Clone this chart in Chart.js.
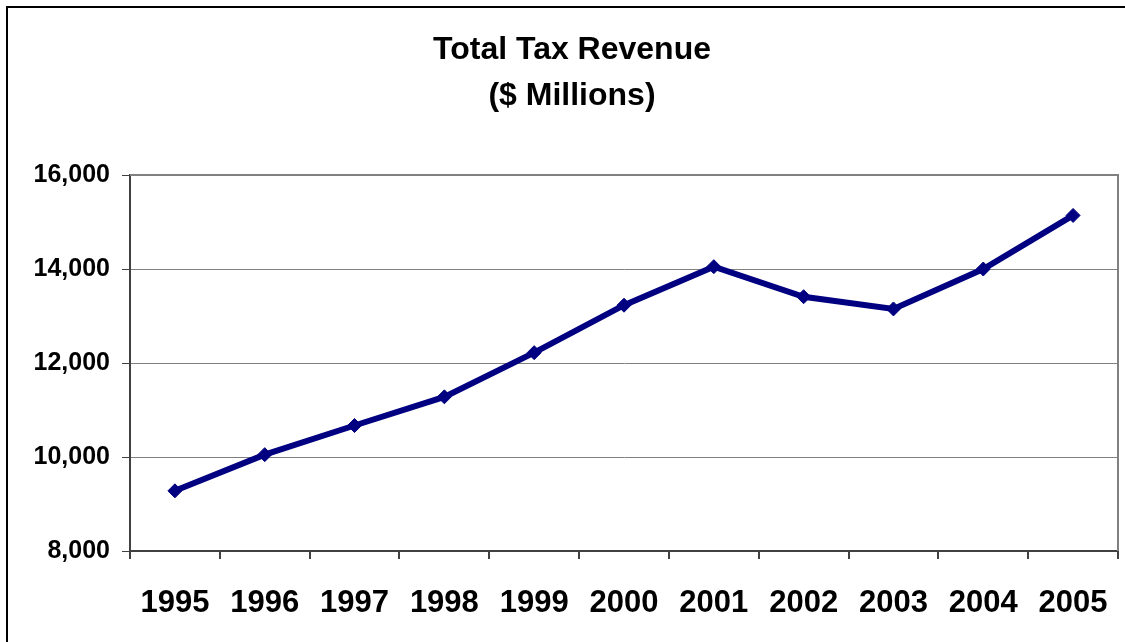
<!DOCTYPE html>
<html>
<head>
<meta charset="utf-8">
<script src="https://cdn.jsdelivr.net/npm/chart.js@4"></script>
<style>
  html, body { margin: 0; padding: 0; background: #fff; overflow: hidden; }
  #wrap { width: 1144px; height: 642px; }
</style>
</head>
<body>
<div id="wrap"><canvas id="taxChart" width="1144" height="642"></canvas></div>
<script>
const years = ['1995', '1996', '1997', '1998', '1999', '2000', '2001', '2002', '2003', '2004', '2005'];
const revenue = [9280, 10050, 10670, 11280, 12220, 13230, 14050, 13410, 13150, 14000, 15140];
const titleLines = ['Total Tax Revenue', '($ Millions)'];
const yMin = 8000;
const yMax = 16000;
const yStep = 2000;

const FONT = "'Liberation Sans', Arial, sans-serif";

// outer frame + grey plot border like the Excel original
const framePlugin = {
    id: 'frame',
    beforeDatasetsDraw(chart) {
        const { ctx, chartArea: a } = chart;
        ctx.save();
        ctx.strokeStyle = '#808080';
        ctx.lineWidth = 2;
        ctx.beginPath();
        ctx.moveTo(a.left, a.top);
        ctx.lineTo(a.right, a.top);
        ctx.lineTo(a.right, a.bottom);
        ctx.stroke();
        ctx.restore();
    },
    afterDraw(chart) {
        const ctx = chart.ctx;
        ctx.save();
        ctx.fillStyle = '#000';
        ctx.fillRect(6, 6, 2, chart.height);
        ctx.fillRect(6, 6, chart.width, 2);
        ctx.restore();
    }
};

window.addEventListener('load', () => {
    new Chart(document.getElementById('taxChart'), {
        type: 'line',
        data: {
            labels: years,
            datasets: [{
                label: 'Total Tax Revenue',
                data: revenue,
                borderColor: '#000080',
                backgroundColor: '#000080',
                borderWidth: 6,
                pointStyle: 'rectRot',
                pointRadius: 7,
                pointBorderWidth: 1,
                tension: 0
            }]
        },
        options: {
            responsive: false,
            animation: false,
            events: [],
            layout: { padding: 0 },
            plugins: {
                legend: { display: false },
                tooltip: { enabled: false },
                title: {
                    display: true,
                    text: titleLines,
                    color: '#000',
                    font: { family: FONT, size: 32, weight: 'bold', lineHeight: 1.4375 },
                    padding: { top: 27, bottom: 56 }
                }
            },
            scales: {
                x: {
                    offset: true,
                    grid: {
                        offset: true,
                        drawOnChartArea: false,
                        drawTicks: true,
                        tickLength: 8,
                        tickColor: '#404040',
                        lineWidth: 2
                    },
                    border: { color: '#404040', width: 2 },
                    ticks: {
                        color: '#000',
                        font: { family: FONT, size: 31, weight: 'bold' },
                        padding: 26,
                        maxRotation: 0,
                        autoSkip: false
                    },
                    afterFit(scale) { scale.height = 91; }
                },
                y: {
                    min: yMin,
                    max: yMax,
                    grid: {
                        color: '#808080',
                        lineWidth: 1,
                        tickLength: 8,
                        tickColor: '#404040'
                    },
                    border: { color: '#404040', width: 2 },
                    ticks: {
                        stepSize: yStep,
                        color: '#000',
                        padding: 12,
                        font: { family: FONT, size: 25, weight: 'bold' },
                        callback: (v) => v.toLocaleString('en-US')
                    },
                    afterFit(scale) { scale.width = 130; }
                },
                // empty right-hand scale only reserves the margin right of the plot
                yRight: {
                    position: 'right',
                    min: yMin,
                    max: yMax,
                    grid: { drawOnChartArea: false, drawTicks: false },
                    border: { display: false },
                    ticks: { display: false },
                    afterFit(scale) { scale.width = 26; }
                }
            }
        },
        plugins: [framePlugin]
    });
});
</script>
</body>
</html>
